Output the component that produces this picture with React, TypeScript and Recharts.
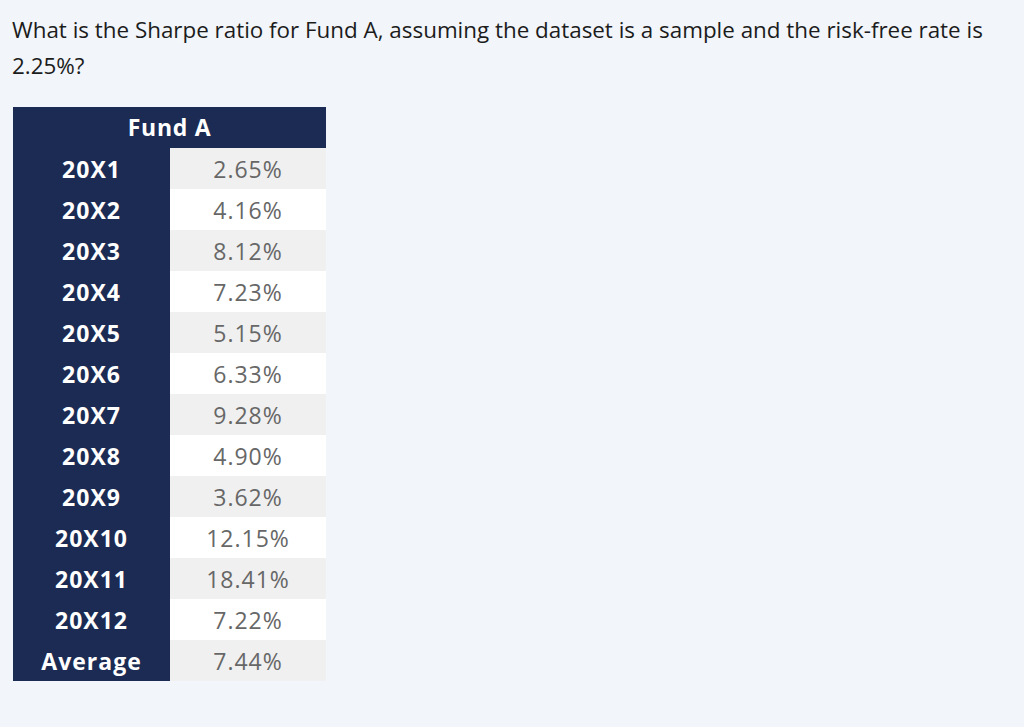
import React from 'react';
import { BarChart, Bar, XAxis, YAxis, Cell, LabelList } from 'recharts';

const periods: string[] = ['20X1', '20X2', '20X3', '20X4', '20X5', '20X6', '20X7', '20X8', '20X9', '20X10', '20X11', '20X12', 'Average'];
const fundA: number[] = [2.65, 4.16, 8.12, 7.23, 5.15, 6.33, 9.28, 4.90, 3.62, 12.15, 18.41, 7.22, 7.44];
const question = 'What is the Sharpe ratio for Fund A, assuming the dataset is a sample and the risk-free rate is 2.25%?';
const header = 'Fund A';

const NAVY = '#1b2b53';
const FONT = '"Open Sans", sans-serif';
const LABEL_W = 157;
const ROW_H = 41;

const rows = periods.map((p, i) => ({
  period: p,
  cell: 1,
  text: fundA[i].toFixed(2) + '%',
}));

if (typeof document !== 'undefined') {
  document.body.style.margin = '0';
  document.body.style.background = '#f2f6fa';
}

const PeriodTick = (props: any) => {
  const { x, y, payload } = props;
  return (
    <text
      x={x - LABEL_W / 2 + 8}
      y={y}
      textAnchor="middle"
      dominantBaseline="central"
      fill="#ffffff"
      fontFamily={FONT}
      fontWeight={700}
      fontSize={23}
      style={{ letterSpacing: '1px' }}
    >
      {payload.value}
    </text>
  );
};

const ValueLabel = (props: any) => {
  const { x, y, width, height, value } = props;
  return (
    <text
      x={x + width / 2}
      y={y + height / 2}
      textAnchor="middle"
      dominantBaseline="central"
      fill="#676767"
      fontFamily={FONT}
      fontSize={23}
      style={{ letterSpacing: '1px' }}
    >
      {value}
    </text>
  );
};

const App: React.FC = () => {
  return (
    <div style={{ position: 'relative', width: 1024, height: 727, background: '#f2f6fa', fontFamily: FONT }}>
      <div style={{ position: 'absolute', left: 12, top: 12, width: 1005, fontSize: 22.4, lineHeight: '36px', color: '#1c1c1c' }}>
        {question}
      </div>
      <div style={{ position: 'absolute', left: 13, top: 107, width: 313, height: ROW_H, background: NAVY, color: '#fff', fontWeight: 700, fontSize: 23, letterSpacing: '0.7px', lineHeight: ROW_H + 'px', textAlign: 'center' }}>
        {header}
      </div>
      <div style={{ position: 'absolute', left: 13, top: 148, background: NAVY }}>
        <BarChart
          width={313}
          height={ROW_H * rows.length}
          data={rows}
          layout="vertical"
          margin={{ top: 0, right: 0, left: 0, bottom: 0 }}
          barCategoryGap={0}
        >
          <XAxis type="number" domain={[0, 1]} hide />
          <YAxis type="category" dataKey="period" width={LABEL_W} axisLine={false} tickLine={false} tick={<PeriodTick />} interval={0} />
          <Bar dataKey="cell" isAnimationActive={false}>
            {rows.map((r, i) => (
              <Cell key={r.period} fill={i % 2 === 0 ? '#f0f0f0' : '#ffffff'} />
            ))}
            <LabelList dataKey="text" content={<ValueLabel />} />
          </Bar>
        </BarChart>
      </div>
    </div>
  );
};

export default App;
